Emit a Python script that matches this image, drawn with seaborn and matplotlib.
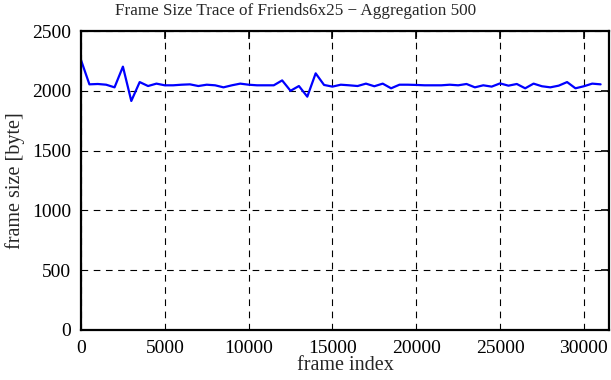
import seaborn as sns
import pandas as pd
import matplotlib.pyplot as plt

# frame size trace, one value per 500 frames
frame_index = list(range(0, 31001, 500))
frame_size = [2257, 2054, 2057, 2051, 2029, 2202, 1915, 2073, 2040, 2060,
              2046, 2046, 2051, 2054, 2040, 2051, 2046, 2029, 2046, 2060,
              2051, 2046, 2046, 2046, 2087, 2000, 2040, 1951, 2146, 2049,
              2035, 2051, 2046, 2040, 2060, 2038, 2060, 2021, 2051, 2051,
              2049, 2046, 2046, 2046, 2051, 2046, 2057, 2029, 2046, 2035,
              2062, 2043, 2057, 2021, 2060, 2038, 2029, 2043, 2073, 2021,
              2038, 2060, 2054]

df = pd.DataFrame({'frame index': frame_index, 'frame size': frame_size})

sns.set_style("white")
plt.rcParams['font.family'] = ['Liberation Serif', 'DejaVu Serif']

fig = plt.figure(figsize=(6.11, 3.8), dpi=100)
ax = fig.add_axes([0.1326, 0.1316, 0.8641, 0.7868])

sns.lineplot(data=df, x='frame index', y='frame size', color='#0000ff', linewidth=1.6, ax=ax)

ax.set_xlim(0, 31500)
ax.set_ylim(0, 2500)
ax.set_xticks(range(0, 30001, 5000))
ax.set_yticks(range(0, 2501, 500))

ax.grid(True, color='black', linestyle=(0, (6, 5)), linewidth=0.8)
for s in ax.spines.values():
    s.set_color('black')
    s.set_linewidth(1.6)

ax.tick_params(direction='in', length=6, width=1.2, top=True, right=True,
               labelsize=14, colors='black', pad=7)

ax.set_xlabel('frame index', fontsize=14.5)
ax.set_ylabel('frame size [byte]', fontsize=14.5)
ax.xaxis.set_label_coords(0.5, -0.088)
ax.yaxis.set_label_coords(-0.106, 0.5)

# gnuplot centres the title on the canvas, not the plot box
fig.text(0.483, 0.972, 'Frame Size Trace of Friends6x25 \u2212 Aggregation 500',
         fontsize=12.3, ha='center', va='center')

fig.savefig('out.png', dpi=100)
